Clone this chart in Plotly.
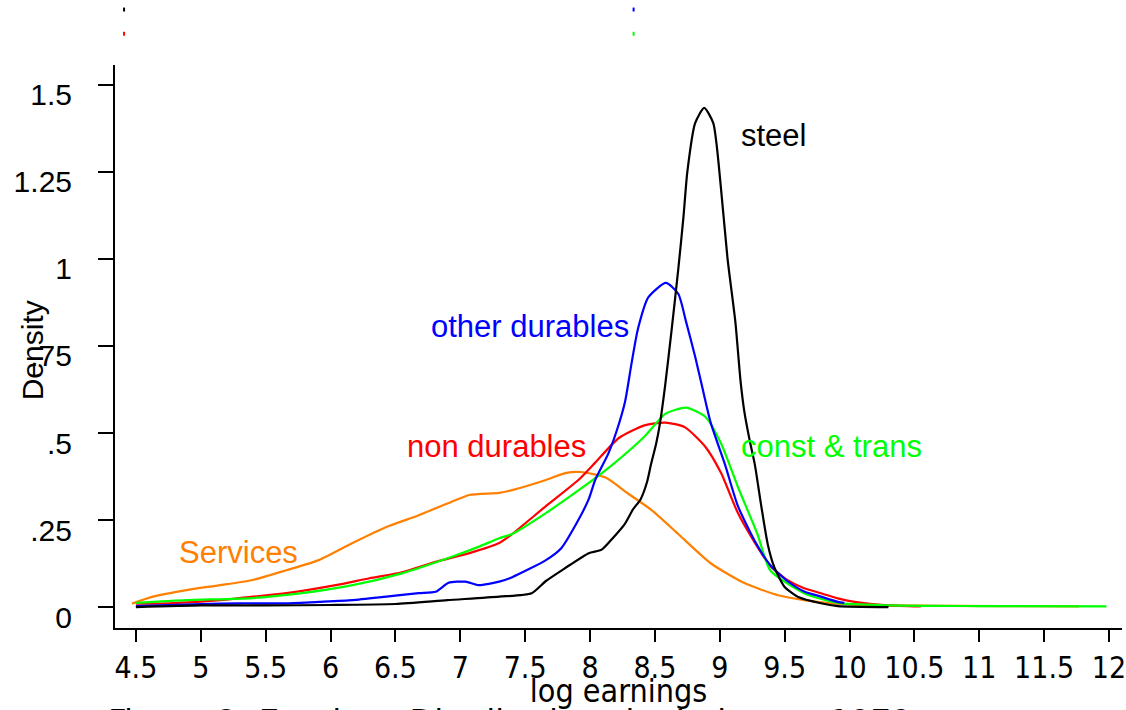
import plotly.graph_objects as go

# ---- data ----
steel_x = [4.5, 5.0, 5.5, 6.0, 6.5, 6.9, 7.3, 7.55, 7.66, 7.8, 7.99, 8.09, 8.18, 8.27, 8.33, 8.39, 8.44, 8.47, 8.51,
           8.54, 8.58, 8.63, 8.68, 8.72, 8.75, 8.81, 8.88, 8.95, 9.01, 9.06, 9.12, 9.16, 9.19, 9.23, 9.27, 9.32,
           9.37, 9.42, 9.5, 9.6, 9.78, 9.91, 10.3]
steel_y = [0.0, 0.005, 0.005, 0.006, 0.009, 0.02, 0.03, 0.04, 0.075, 0.11, 0.155, 0.165, 0.2, 0.24, 0.28, 0.31, 0.36,
           0.41, 0.47, 0.53, 0.64, 0.8, 0.97, 1.12, 1.25, 1.39, 1.434, 1.39, 1.2, 1.0, 0.82, 0.65, 0.56, 0.48, 0.41,
           0.29, 0.18, 0.115, 0.058, 0.03, 0.011, 0.003, 0.0]

dur_x = [4.5, 5.0, 5.3, 5.66, 5.91, 6.17, 6.43, 6.68, 6.81, 6.91, 7.04, 7.14, 7.3, 7.4, 7.66, 7.78, 7.91, 7.99, 8.04,
         8.14, 8.2, 8.27, 8.32, 8.37, 8.45, 8.585, 8.68, 8.74, 8.81, 8.86, 8.93, 9.04, 9.14, 9.27, 9.39, 9.52, 9.65,
         9.78, 9.91, 9.96]
dur_y = [0.003, 0.009, 0.011, 0.011, 0.015, 0.02, 0.03, 0.04, 0.044, 0.07, 0.073, 0.063, 0.073, 0.086, 0.135, 0.17,
         0.25, 0.31, 0.365, 0.44, 0.5, 0.59, 0.7, 0.8, 0.89, 0.931, 0.9, 0.82, 0.72, 0.64, 0.53, 0.41, 0.29, 0.19,
         0.12, 0.075, 0.045, 0.03, 0.015, 0.012]

nondur_x = [4.5, 4.76, 5.15, 5.4, 5.66, 6.04, 6.3, 6.55, 6.81, 7.07, 7.3, 7.4, 7.66, 7.91, 8.04, 8.22, 8.42, 8.58, 8.73,
            8.89, 9.01, 9.14, 9.27, 9.39, 9.52, 9.65, 9.78, 9.91, 10.04, 10.29, 10.55]
nondur_y = [0.01, 0.011, 0.02, 0.03, 0.04, 0.063, 0.083, 0.1, 0.13, 0.155, 0.184, 0.21, 0.29, 0.365, 0.415, 0.485,
            0.522, 0.53, 0.517, 0.46, 0.385, 0.27, 0.185, 0.118, 0.078, 0.054, 0.04, 0.025, 0.015, 0.005, 0.002]

const_x = [4.5, 4.89, 5.4, 5.78, 6.17, 6.55, 6.93, 7.14, 7.3, 7.4, 7.66, 7.91, 8.16, 8.42, 8.58, 8.74, 8.89, 9.01,
           9.14, 9.29, 9.39, 9.65, 9.91, 10.3, 11.0, 11.98]
const_y = [0.012, 0.02, 0.026, 0.04, 0.063, 0.097, 0.144, 0.173, 0.198, 0.21, 0.27, 0.335, 0.405, 0.49, 0.555, 0.573,
           0.546, 0.47, 0.345, 0.21, 0.105, 0.04, 0.012, 0.005, 0.003, 0.002]

serv_x = [4.47, 4.63, 4.89, 5.15, 5.4, 5.66, 5.91, 6.17, 6.43, 6.68, 6.93, 7.07, 7.3, 7.4, 7.66, 7.81, 7.93, 8.12,
          8.29, 8.47, 8.68, 8.93, 9.19, 9.45, 9.65, 9.91, 10.3, 11.19, 11.77]
serv_y = [0.01, 0.03, 0.049, 0.063, 0.078, 0.106, 0.135, 0.184, 0.23, 0.264, 0.302, 0.322, 0.328, 0.336, 0.365,
          0.385, 0.388, 0.372, 0.327, 0.28, 0.21, 0.126, 0.069, 0.034, 0.02, 0.009, 0.005, 0.003, 0.002]

x_ticks = [4.5, 5, 5.5, 6, 6.5, 7, 7.5, 8, 8.5, 9, 9.5, 10, 10.5, 11, 11.5, 12]
x_tick_text = ["4.5", "5", "5.5", "6", "6.5", "7", "7.5", "8", "8.5", "9", "9.5", "10", "10.5", "11", "11.5", "12"]
y_ticks = [0, 0.25, 0.5, 0.75, 1, 1.25, 1.5]
y_tick_text = ["0", ".25", ".5", ".75", "1", "1.25", "1.5"]

labels = ["steel", "other durables", "non durables", "const & trans", "Services"]
label_x = [9.15, 6.76, 6.575, 9.15, 4.815]
label_y = [1.355, 0.805, 0.46, 0.46, 0.158]

BLACK, BLUE, RED, GREEN, ORANGE = "#000000", "#0000ff", "#ff0000", "#00ff00", "#ff8000"
colors = [BLACK, BLUE, RED, GREEN, ORANGE]

series = [(steel_x, steel_y), (dur_x, dur_y), (nondur_x, nondur_y), (const_x, const_y), (serv_x, serv_y)]

NARROW = "DejaVu Sans Condensed, Liberation Sans Narrow, Liberation Sans, Arial"
REG = "Liberation Sans, Arial"

fig = go.Figure()
order = [4, 2, 3, 1, 0]
for i in order:
    xs, ys = series[i]
    fig.add_trace(go.Scatter(x=xs, y=ys, mode="lines", name=labels[i],
                             line=dict(color=colors[i], width=2.2, shape="spline", smoothing=0.6),
                             showlegend=False))

for t, lx, ly, c in zip(labels, label_x, label_y, colors):
    fig.add_annotation(x=lx, y=ly, text=t, showarrow=False, xanchor="left", yanchor="middle",
                       font=dict(family=REG, size=31, color=c))

# y axis title
fig.add_annotation(xref="paper", yref="paper", x=-0.082, y=0.494, text="Density", textangle=-90,
                   showarrow=False, xanchor="center", yanchor="middle",
                   font=dict(family=REG, size=30, color="black"))

# bottom title (cut off by the page edge)
fig.add_annotation(xref="paper", yref="paper", x=-0.009, y=-0.128,
                   text="Figure 2: Earnings Distributions by Industry, 1979",
                   showarrow=False, xanchor="left", yanchor="top",
                   font=dict(family=NARROW, size=36, color="black"))

# remnants of legend keys at the top
legend_keys = [(0.009, 1.095, BLACK), (0.515, 1.095, BLUE), (0.009, 1.052, RED), (0.515, 1.052, GREEN)]
for kx, ky, kc in legend_keys:
    fig.add_shape(type="line", xref="paper", yref="paper", x0=kx, x1=kx, y0=ky, y1=ky + 0.007,
                  line=dict(color=kc, width=2))

fig.update_layout(
    width=1126, height=710,
    margin=dict(l=115, r=0, t=65, b=82),
    paper_bgcolor="white", plot_bgcolor="white",
    xaxis=dict(range=[4.339, 12.1], tickvals=x_ticks, ticktext=x_tick_text,
               showgrid=False, zeroline=False, showline=True, linecolor="black", linewidth=2,
               ticks="outside", ticklen=12, tickwidth=2, tickcolor="black",
               ticklabeloverflow="allow", ticklabelstandoff=0,
               tickfont=dict(family=NARROW, size=30, color="black"),
               title=dict(text="log earnings", standoff=0,
                          font=dict(family=NARROW, size=32, color="black"))),
    yaxis=dict(range=[-0.060, 1.557], tickvals=y_ticks, ticktext=y_tick_text,
               showgrid=False, zeroline=False, showline=True, linecolor="black", linewidth=2,
               ticks="outside", ticklen=15, tickwidth=2, tickcolor="black",
               ticklabelstandoff=20, ticklabelshift=10,
               tickfont=dict(family=REG, size=30, color="black")),
)

fig.write_html("out.html")
